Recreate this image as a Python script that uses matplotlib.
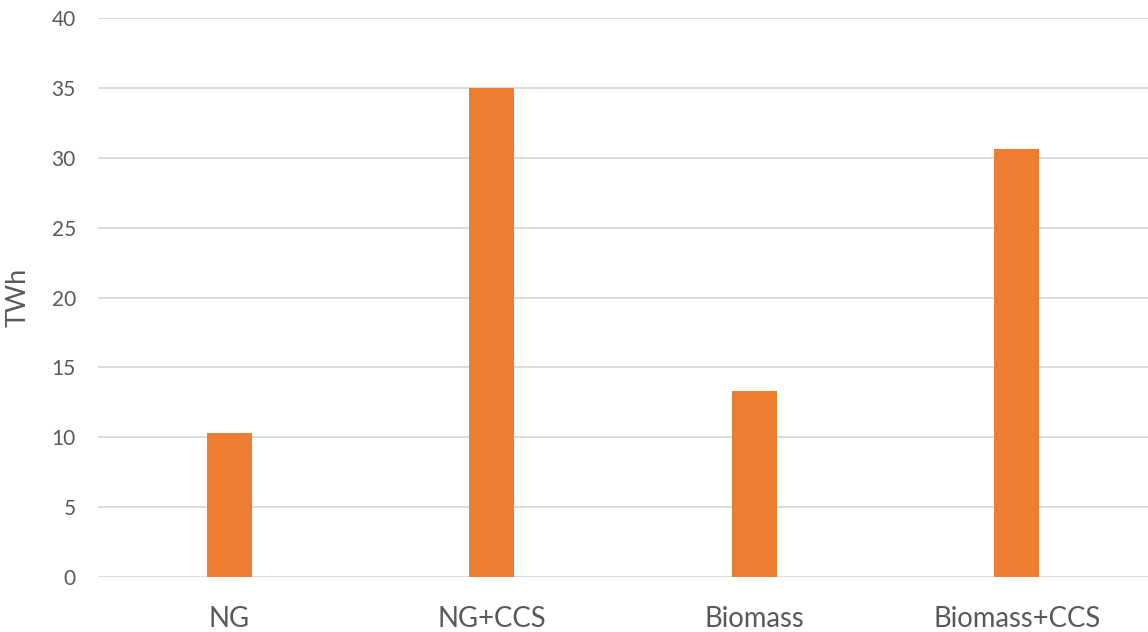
import matplotlib
matplotlib.use("Agg")
import matplotlib.pyplot as plt

categories = ["NG", "NG+CCS", "Biomass", "Biomass+CCS"]
values = [10.3, 35.0, 13.3, 30.65]
y_ticks = [0, 5, 10, 15, 20, 25, 30, 35, 40]

plt.rcParams["font.family"] = ["Lato", "DejaVu Sans"]

fig = plt.figure(figsize=(11.48, 6.32), dpi=100)
ax = fig.add_axes([0.0854, 0.087, 0.9146, 0.8845])

x = list(range(len(categories)))
ax.bar(x, values, width=0.173, color="#ED7D31", zorder=3)

ax.set_xlim(-0.5, len(categories) - 0.5)
ax.set_ylim(0, 40)
ax.set_yticks(y_ticks)
ax.set_xticks(x)
ax.set_xticklabels(categories)

ax.grid(axis="y", color="#d9d9d9", linewidth=1.3, zorder=0)
for s in ax.spines.values():
    s.set_visible(False)
ax.tick_params(axis="both", length=0, colors="#595959")
ax.tick_params(axis="y", labelsize=15, pad=16)
ax.tick_params(axis="x", labelsize=19.8, pad=21)
ax.set_ylabel("TWh", fontsize=19.5, color="#595959", labelpad=15)

fig.savefig("out.png", dpi=100)
